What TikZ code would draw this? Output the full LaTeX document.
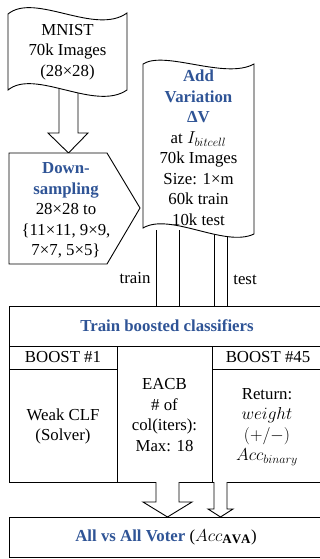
\documentclass[tikz,border=0pt]{standalone}
\usepackage{fontspec}
\setmainfont{Liberation Serif}
\definecolor{hdblue}{RGB}{47,84,150}
\newcommand{\hdtxt}[1]{\textcolor{hdblue}{\textbf{#1}}}
\newcommand{\bsub}[1]{_{\hbox{\fontsize{13}{13}\selectfont$#1$}}}
\begin{document}
\begin{tikzpicture}[x=1pt,y=-1pt,line width=0.9pt,
  lbl/.style={font=\fontsize{16.8}{20.5}\selectfont, align=center, inner sep=0pt},
  shapebox/.style={draw=black, fill=white, line width=0.9pt},
  hollow/.style={draw=black, fill=white, line width=0.9pt}]
\useasboundingbox (0,0) rectangle (320,559);
\clip (0,0) rectangle (320,559);

% train / test feed lines (drawn first, boxes cover their tops)
\coordinate (trA) at (156,230); \coordinate (trB) at (179,230);
\coordinate (teA) at (214,230); \coordinate (teB) at (227,230);
\coordinate (trA2) at (156,306); \coordinate (trB2) at (179,306);
\coordinate (teA2) at (214,306); \coordinate (teB2) at (227,306);
\draw (trA) -- (trA2); \draw (trB) -- (trB2);
\draw (teA) -- (teA2); \draw (teB) -- (teB2);

% hollow arrow MNIST -> Down-sampling
\draw[hollow] (59,80) -- (59,133) -- (48,133) -- (68.5,153) -- (88,133) -- (78,133) -- (78,80);

% MNIST wave box
\draw[shapebox] (8,14) .. controls (35,-8) and (95,36) .. (127,13) -- (127,90)
  .. controls (95,112) and (35,68) .. (8,90) -- cycle;
\node[lbl] (mnist) at (67.5,52) {MNIST\\70k Images\\(28×28)};

% Add Variation wave box
\draw[shapebox] (143,64) .. controls (165,50) and (225,80) .. (254,64) -- (254,234)
  .. controls (225,248) and (170,212) .. (143,228) -- cycle;
\node[lbl] (addvar) at (198.5,148) {\hdtxt{Add}\\\hdtxt{Variation}\\\hdtxt{ΔV}\\at $I\bsub{bitcell}$\\70k Images\\Size: 1×m\\60k train\\10k test};

% Down-sampling pentagon
\draw[shapebox] (9,153) -- (107,153) -- (140,208) -- (107,264) -- (9,264) -- cycle;
\node[lbl] (down) at (66,210.5) {\hdtxt{Down-}\\\hdtxt{sampling}\\28×28 to\\\{11×11, 9×9,\\7×7, 5×5\}};

\node[lbl] (trainlbl) at (135,278) {train};
\node[lbl] (testlbl) at (245,280) {test};

% Train boosted classifiers table
\draw (9,306) rectangle (325,482);
\draw (9,346) -- (325,346);
\draw (117,346) -- (117,482);
\draw (212,346) -- (212,482);
\draw (9,369) -- (117,369);
\draw (212,369) -- (325,369);
\node[lbl] (trainbox) at (167,326) {\hdtxt{Train boosted classifiers}};
\node[lbl] (b1) at (63,357.5) {BOOST \#1};
\node[lbl] (b45) at (268,357.5) {BOOST \#45};
\node[lbl] (weak) at (63,426.5) {Weak CLF\\(Solver)};
\node[lbl] (eacb) at (164.5,415) {EACB\\\# of\\col(iters):\\Max: 18};
\node[lbl] (ret) at (267,427) {Return:\\$weight$\\$(+/-)$\\$Acc\bsub{binary}$};

% bottom hollow arrows
\draw[hollow] (156,482) -- (156,502) -- (143,502) -- (167.5,517) -- (192,502) -- (179,502) -- (179,482);
\draw[hollow] (214,482) -- (214,509) -- (208,509) -- (220.5,517) -- (233,509) -- (227,509) -- (227,482);

% Voter box
\draw (9,517) rectangle (325,557);
\node[lbl] (voter) at (166,537) {\hdtxt{All vs All Voter} ($Acc\bsub{\mathbf{AVA}}$)};
\end{tikzpicture}
\end{document}
